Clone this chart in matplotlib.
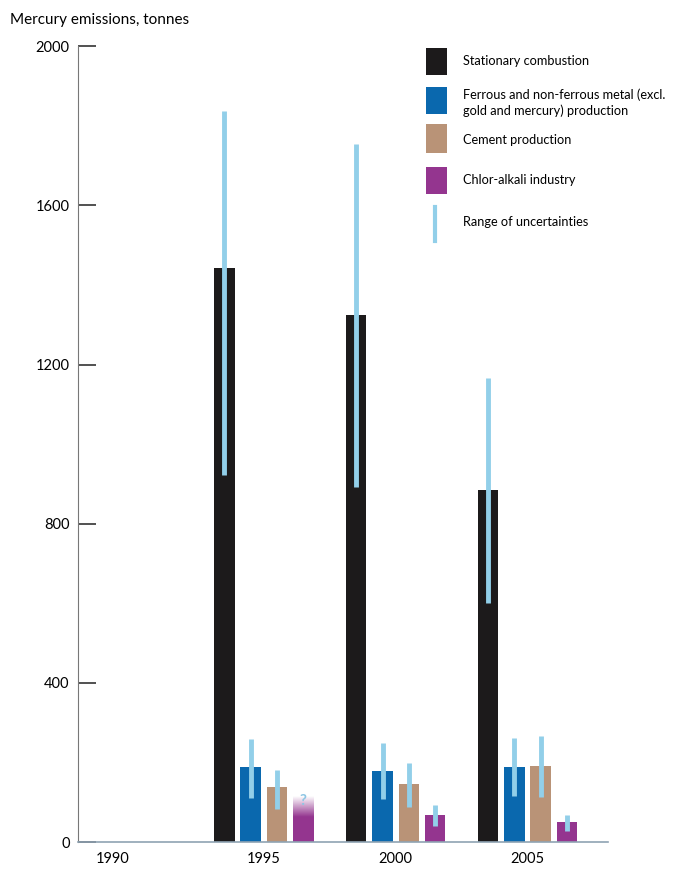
import numpy as np
import matplotlib.pyplot as plt
from matplotlib.colors import LinearSegmentedColormap
from matplotlib.patches import Rectangle
from matplotlib.lines import Line2D

plt.rcParams["font.family"] = ["Lato", "DejaVu Sans"]

# -------------------------
# Data
# -------------------------
years = ["1990", "1995", "2000", "2005"]
year_pos = [-1.15, 0, 1, 2]          # 1990 has no data, label sits a bit further left
bar_years = [0, 1, 2]                # positions of 1995, 2000, 2005

series = ["Stationary combustion",
          "Ferrous and non-ferrous metal (excl.\ngold and mercury) production",
          "Cement production",
          "Chlor-alkali industry"]
colors = ["#1c1a1b", "#0a68ae", "#b99377", "#94358f"]

stationary = [1442, 1324, 884]
metal = [188, 178, 188]
cement = [138, 146, 191]
chlor = [63, 68, 50]

stationary_lo = [922, 892, 600]
stationary_hi = [1837, 1754, 1166]
metal_lo = [111, 108, 116]
metal_hi = [259, 249, 261]
cement_lo = [83, 88, 113]
cement_hi = [181, 199, 266]
chlor_lo = [None, 40, 28]
chlor_hi = [None, 93, 68]

chlor_1995_fade_top = 115   # uncertain part of the 1995 chlor-alkali bar

values = [stationary, metal, cement, chlor]
lows = [stationary_lo, metal_lo, cement_lo, chlor_lo]
highs = [stationary_hi, metal_hi, cement_hi, chlor_hi]
offsets = [-0.3, -0.1, 0.1, 0.3]
width = 0.155
err_color = "#92cfe9"

# -------------------------
# Plot
# -------------------------
fig = plt.figure(figsize=(6.75, 8.72), dpi=100)
ax = fig.add_axes([0.1156, 0.0344, 0.785, 0.9126])

for vals, lo, hi, off, col in zip(values, lows, highs, offsets, colors):
    x = np.array(bar_years) + off
    ax.bar(x, vals, width=width, color=col, zorder=2)
    for xi, l, h in zip(x, lo, hi):
        if l is None:
            continue
        ax.plot([xi, xi], [l, h], color=err_color, lw=3.5, solid_capstyle="butt", zorder=3)

# fading top of the 1995 chlor-alkali bar
x0 = bar_years[0] + offsets[3]
fade = LinearSegmentedColormap.from_list("fade", [colors[3], "#ffffff"])
grad = np.linspace(0, 1, 100).reshape(-1, 1)
ax.imshow(grad, cmap=fade, origin="lower", aspect="auto",
          extent=[x0 - width / 2, x0 + width / 2, chlor[0], chlor_1995_fade_top], zorder=2)
ax.text(x0, (chlor[0] + chlor_1995_fade_top) / 2 + 14, "?", color="#8ec6e4",
        ha="center", va="center", fontsize=11, fontweight="bold", zorder=4)

# -------------------------
# Styling
# -------------------------
ax.set_xlim(-1.41, 2.61)
ax.set_ylim(0, 2000)
ax.set_yticks([0, 400, 800, 1200, 1600, 2000])
ax.set_xticks(year_pos)
ax.set_xticklabels(years)
ax.tick_params(axis="y", direction="in", length=13, width=1.2, color="#333333",
               labelsize=10.5, pad=6)
ax.tick_params(axis="x", length=0, labelsize=10.5, pad=7)
ax.spines["top"].set_visible(False)
ax.spines["right"].set_visible(False)
ax.spines["left"].set_color("#777777")
ax.spines["bottom"].set_color("#8fa3b3")
ax.spines["bottom"].set_linewidth(1.2)

fig.text(0.015, 0.977, "Mercury emissions, tonnes", fontsize=11, va="center", ha="left")

# -------------------------
# Legend (drawn by hand, figure coordinates)
# -------------------------
W, H = 675, 872
def fx(px):
    return px / W
def fy(py):
    return 1 - py / H

legend_rows = [(48, 75, 61), (87, 114, 103), (124, 153, 140), (167, 194, 180)]
for (top, bot, mid), col, lab in zip(legend_rows, colors, series):
    fig.patches.append(Rectangle((fx(426), fy(bot)), fx(447) - fx(426), fy(top) - fy(bot),
                                 transform=fig.transFigure, facecolor=col, edgecolor="none"))
    fig.text(fx(463), fy(mid), lab, fontsize=9.2, va="center", ha="left", linespacing=1.3)

fig.lines.append(Line2D([fx(435), fx(435)], [fy(207), fy(241)], transform=fig.transFigure,
                        color=err_color, lw=3))
fig.text(fx(463), fy(222), "Range of uncertainties", fontsize=9.2, va="center", ha="left")

plt.savefig("out.png", dpi=100)
plt.close()
